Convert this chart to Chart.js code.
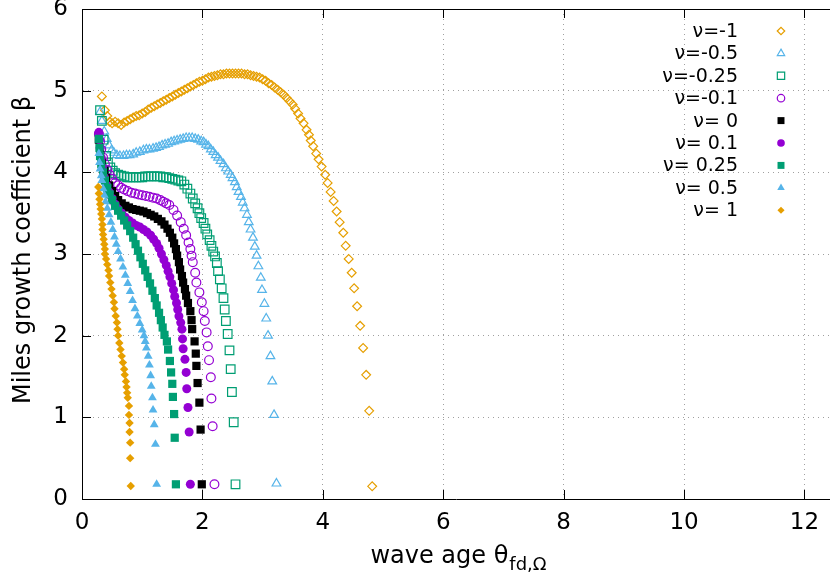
<!DOCTYPE html>
<html>
<head>
<meta charset="utf-8">
<script src="https://cdn.jsdelivr.net/npm/chart.js@4.4.0/dist/chart.umd.min.js"></script>
<style>
  html, body { margin: 0; padding: 0; background: #fff; overflow: hidden; }
</style>
</head>
<body>
<canvas id="chart" width="830" height="580"></canvas>
<script>
// axis ticks
const xTicks = [0, 2, 4, 6, 8, 10, 12];
const yTicks = [0, 1, 2, 3, 4, 5, 6];

const nuLabels = ['ν=-1', 'ν=-0.5', 'ν=-0.25', 'ν=-0.1', 'ν= 0', 'ν= 0.1', 'ν= 0.25', 'ν= 0.5', 'ν= 1'];

// [wave age, beta]
const nuM1 = [
  [0.33,4.93],[0.38,4.76],[0.42,4.69],[0.46,4.62],[0.50,4.60],[0.55,4.62],[0.60,4.60],[0.65,4.58],
  [0.70,4.61],[0.75,4.63],[0.80,4.65],[0.85,4.67],[0.90,4.69],[0.95,4.70],[1.00,4.72],[1.05,4.74],
  [1.10,4.77],[1.15,4.79],[1.20,4.81],[1.25,4.83],[1.30,4.85],[1.35,4.87],[1.40,4.89],[1.45,4.91],
  [1.50,4.93],[1.55,4.95],[1.60,4.97],[1.65,4.99],[1.70,5.01],[1.75,5.03],[1.80,5.05],[1.85,5.07],
  [1.90,5.09],[1.95,5.11],[2.00,5.12],[2.05,5.14],[2.10,5.16],[2.15,5.17],[2.20,5.18],[2.25,5.19],
  [2.30,5.20],[2.35,5.20],[2.40,5.21],[2.45,5.21],[2.50,5.21],[2.55,5.21],[2.60,5.21],[2.65,5.21],
  [2.70,5.20],[2.75,5.20],[2.80,5.19],[2.85,5.18],[2.90,5.17],[2.95,5.16],[3.00,5.14],[3.05,5.12],
  [3.10,5.09],[3.15,5.07],[3.20,5.04],[3.25,5.01],[3.30,4.98],[3.35,4.95],[3.40,4.91],[3.45,4.87],
  [3.50,4.83],[3.54,4.78],[3.59,4.72],[3.63,4.66],[3.68,4.60],[3.73,4.52],[3.77,4.46],[3.80,4.39],
  [3.84,4.32],[3.89,4.23],[3.93,4.16],[3.98,4.07],[4.04,3.97],[4.08,3.87],[4.13,3.76],[4.18,3.65],
  [4.23,3.52],[4.28,3.39],[4.34,3.26],[4.38,3.10],[4.43,2.94],[4.48,2.77],[4.52,2.58],[4.57,2.36],
  [4.62,2.12],[4.67,1.85],[4.72,1.52],[4.77,1.08],[4.82,0.155]
];
const nuM05 = [
  [0.30,4.74],[0.33,4.63],[0.37,4.50],[0.41,4.41],[0.45,4.33],[0.49,4.27],[0.53,4.24],[0.58,4.21],
  [0.63,4.20],[0.69,4.20],[0.74,4.21],[0.79,4.21],[0.85,4.22],[0.90,4.24],[0.96,4.25],[1.02,4.27],
  [1.07,4.28],[1.12,4.28],[1.18,4.29],[1.23,4.30],[1.28,4.31],[1.33,4.33],[1.38,4.34],[1.43,4.35],
  [1.48,4.37],[1.53,4.38],[1.58,4.39],[1.63,4.40],[1.68,4.41],[1.73,4.42],[1.78,4.42],[1.83,4.42],
  [1.88,4.41],[1.93,4.40],[1.98,4.38],[2.02,4.37],[2.06,4.34],[2.10,4.32],[2.14,4.28],[2.18,4.25],
  [2.22,4.21],[2.26,4.18],[2.30,4.14],[2.35,4.10],[2.39,4.05],[2.43,4.01],[2.47,3.97],[2.50,3.93],
  [2.54,3.88],[2.57,3.82],[2.60,3.76],[2.64,3.70],[2.67,3.63],[2.70,3.56],[2.74,3.48],[2.77,3.39],
  [2.80,3.30],[2.84,3.20],[2.87,3.09],[2.90,2.98],[2.93,2.85],[2.97,2.71],[2.99,2.56],[3.03,2.39],
  [3.06,2.21],[3.09,2.00],[3.13,1.75],[3.16,1.44],[3.19,1.03],[3.23,0.19]
];
const nuM025 = [
  [0.30,4.76],[0.33,4.63],[0.36,4.40],[0.40,4.20],[0.43,4.12],[0.47,4.06],[0.51,4.02],[0.55,3.99],
  [0.60,3.97],[0.65,3.96],[0.70,3.95],[0.75,3.94],[0.80,3.94],[0.85,3.94],[0.90,3.94],[0.95,3.94],
  [1.00,3.94],[1.05,3.95],[1.10,3.95],[1.15,3.95],[1.20,3.95],[1.25,3.95],[1.30,3.95],[1.35,3.94],
  [1.40,3.94],[1.45,3.93],[1.50,3.92],[1.55,3.91],[1.60,3.90],[1.65,3.89],[1.70,3.85],[1.75,3.80],
  [1.80,3.74],[1.84,3.68],[1.88,3.62],[1.92,3.56],[1.95,3.50],[1.98,3.44],[2.02,3.38],[2.05,3.31],
  [2.08,3.24],[2.12,3.17],[2.15,3.10],[2.18,3.03],[2.21,2.97],[2.24,2.89],[2.26,2.79],[2.29,2.69],
  [2.32,2.58],[2.35,2.46],[2.37,2.32],[2.39,2.18],[2.42,2.02],[2.45,1.82],[2.47,1.59],[2.49,1.31],
  [2.52,0.94],[2.55,0.18]
];
const nuM01 = [
  [0.28,4.47],[0.30,4.38],[0.32,4.28],[0.35,4.18],[0.38,4.10],[0.42,4.03],[0.46,3.97],[0.50,3.92],
  [0.55,3.87],[0.60,3.84],[0.65,3.81],[0.70,3.79],[0.76,3.77],[0.82,3.75],[0.88,3.74],[0.94,3.73],
  [1.00,3.72],[1.06,3.71],[1.12,3.70],[1.18,3.69],[1.24,3.68],[1.30,3.66],[1.35,3.64],[1.40,3.62],
  [1.45,3.60],[1.52,3.54],[1.58,3.47],[1.64,3.39],[1.69,3.31],[1.73,3.23],[1.77,3.14],[1.80,3.06],
  [1.82,2.98],[1.84,2.90],[1.88,2.77],[1.90,2.65],[1.95,2.53],[1.99,2.41],[2.02,2.30],[2.04,2.18],
  [2.07,2.04],[2.09,1.87],[2.11,1.70],[2.14,1.49],[2.15,1.23],[2.17,0.89],[2.20,0.18]
];
const nu0 = [
  [0.28,4.40],[0.30,4.25],[0.33,4.12],[0.37,4.02],[0.40,3.93],[0.45,3.84],[0.50,3.77],[0.55,3.71],
  [0.60,3.66],[0.66,3.62],[0.72,3.59],[0.78,3.57],[0.84,3.55],[0.90,3.54],[0.96,3.53],[1.02,3.52],
  [1.08,3.50],[1.14,3.48],[1.20,3.46],[1.26,3.43],[1.32,3.40],[1.37,3.36],[1.42,3.31],[1.46,3.26],
  [1.50,3.20],[1.53,3.13],[1.56,3.06],[1.58,2.98],[1.61,2.90],[1.63,2.81],[1.66,2.73],[1.68,2.65],
  [1.71,2.57],[1.73,2.49],[1.76,2.40],[1.80,2.30],[1.82,2.19],[1.83,2.08],[1.87,1.93],[1.89,1.78],
  [1.90,1.63],[1.92,1.42],[1.95,1.18],[1.97,0.85],[1.99,0.18]
];
const nu01 = [
  [0.28,4.49],[0.29,4.40],[0.30,4.30],[0.32,4.18],[0.34,4.06],[0.37,3.94],[0.41,3.84],[0.45,3.76],
  [0.50,3.68],[0.55,3.61],[0.60,3.55],[0.66,3.50],[0.72,3.45],[0.78,3.41],[0.84,3.38],[0.90,3.35],
  [0.96,3.33],[1.02,3.30],[1.08,3.27],[1.14,3.23],[1.19,3.18],[1.24,3.13],[1.28,3.07],[1.32,3.00],
  [1.36,2.93],[1.40,2.86],[1.43,2.79],[1.46,2.72],[1.49,2.64],[1.52,2.56],[1.54,2.48],[1.57,2.40],
  [1.59,2.32],[1.61,2.24],[1.64,2.16],[1.66,2.08],[1.67,1.96],[1.68,1.84],[1.71,1.71],[1.73,1.55],
  [1.74,1.35],[1.76,1.12],[1.78,0.82],[1.80,0.18]
];
const nu025 = [
  [0.28,4.41],[0.29,4.30],[0.30,4.20],[0.32,4.10],[0.35,4.00],[0.38,3.90],[0.42,3.81],[0.46,3.73],
  [0.50,3.66],[0.55,3.59],[0.60,3.53],[0.65,3.47],[0.70,3.41],[0.75,3.35],[0.80,3.28],[0.85,3.20],
  [0.89,3.12],[0.93,3.04],[0.97,2.96],[1.01,2.88],[1.05,2.80],[1.09,2.72],[1.13,2.64],[1.17,2.55],
  [1.21,2.46],[1.24,2.37],[1.28,2.28],[1.31,2.19],[1.34,2.10],[1.37,2.01],[1.41,1.93],[1.43,1.83],
  [1.46,1.69],[1.48,1.55],[1.50,1.41],[1.51,1.25],[1.53,1.04],[1.54,0.75],[1.56,0.18]
];
const nu05 = [
  [0.28,4.23],[0.29,4.12],[0.30,4.04],[0.32,3.96],[0.33,3.90],[0.35,3.80],[0.37,3.72],[0.39,3.64],
  [0.42,3.56],[0.45,3.48],[0.48,3.39],[0.51,3.30],[0.54,3.21],[0.57,3.12],[0.60,3.03],[0.64,2.94],
  [0.68,2.84],[0.72,2.74],[0.76,2.64],[0.80,2.54],[0.84,2.43],[0.88,2.33],[0.92,2.24],[0.96,2.15],
  [1.00,2.07],[1.03,2.00],[1.05,1.93],[1.07,1.85],[1.10,1.75],[1.12,1.64],[1.14,1.51],[1.15,1.38],
  [1.17,1.24],[1.18,1.09],[1.20,0.91],[1.22,0.67],[1.24,0.18]
];
const nu1 = [
  [0.27,3.82],[0.28,3.74],[0.29,3.67],[0.30,3.61],[0.31,3.55],[0.32,3.49],[0.33,3.43],[0.34,3.36],
  [0.34,3.30],[0.35,3.24],[0.36,3.18],[0.37,3.12],[0.38,3.06],[0.38,3.00],[0.40,2.94],[0.42,2.87],
  [0.44,2.80],[0.45,2.73],[0.47,2.65],[0.49,2.57],[0.51,2.49],[0.53,2.41],[0.54,2.33],[0.56,2.24],
  [0.58,2.16],[0.59,2.08],[0.60,2.00],[0.62,1.91],[0.64,1.83],[0.66,1.75],[0.68,1.67],[0.70,1.59],
  [0.71,1.52],[0.73,1.44],[0.74,1.37],[0.75,1.30],[0.76,1.24],[0.78,1.14],[0.78,1.03],[0.79,0.93],
  [0.79,0.82],[0.80,0.69],[0.80,0.50],[0.81,0.16]
];

const seriesData = [nuM1, nuM05, nuM025, nuM01, nu0, nu01, nu025, nu05, nu1];

const FONT = "'DejaVu Sans', 'Liberation Sans', sans-serif";
const NONE = 'rgba(0,0,0,0)';
const orange = '#e69f00', sky = '#56b4e9', green = '#009e73', purple = '#9400d3', black = '#000000';

// marker look per series (gnuplot point types)
const markers = [
  { color: orange, style: 'rectRot',  r: 4.4, open: true },
  { color: sky,    style: 'triangle', r: 5.0, open: true },
  { color: green,  style: 'rect',     r: 6.1, open: true },
  { color: purple, style: 'circle',   r: 4.4, open: true },
  { color: black,  style: 'rect',     r: 5.8, open: false },
  { color: purple, style: 'circle',   r: 4.5, open: false },
  { color: green,  style: 'rect',     r: 5.8, open: false },
  { color: sky,    style: 'triangle', r: 5.1, open: false },
  { color: orange, style: 'rectRot',  r: 4.2, open: false }
];

const datasets = seriesData.map((pts, i) => {
  const m = markers[i];
  return {
    label: nuLabels[i],
    data: pts.map(p => ({ x: p[0], y: p[1] })),
    showLine: false,
    order: seriesData.length - i, // later series on top, as gnuplot draws
    pointStyle: m.style,
    pointRadius: m.r,
    pointHoverRadius: m.r,
    borderColor: m.color,
    backgroundColor: m.open ? NONE : m.color,
    borderWidth: m.open ? 1.2 : 0
  };
});

const frame = {
  id: 'frame',
  afterDraw(chart) {
    const ctx = chart.ctx;
    const a = chart.chartArea;
    const xs = chart.scales.x, ys = chart.scales.y;
    const tl = 9;
    ctx.save();
    ctx.strokeStyle = '#000';
    ctx.lineWidth = 1;
    ctx.beginPath();
    const top = Math.round(a.top) + 0.5;
    ctx.moveTo(a.left, top);
    ctx.lineTo(a.right, top);
    xTicks.forEach(v => {
      if (v === 0) return;
      const px = Math.round(xs.getPixelForValue(v)) + 0.5;
      ctx.moveTo(px, a.bottom);
      ctx.lineTo(px, a.bottom - tl);
      ctx.moveTo(px, a.top);
      ctx.lineTo(px, a.top + tl);
    });
    yTicks.forEach(v => {
      if (v === 0 || v === 6) return;
      const py = Math.round(ys.getPixelForValue(v)) + 0.5;
      ctx.moveTo(a.left, py);
      ctx.lineTo(a.left + tl, py);
    });
    ctx.stroke();

    // axis titles
    ctx.fillStyle = '#000';
    ctx.font = '24px ' + FONT;
    ctx.textBaseline = 'middle';
    ctx.textAlign = 'center';
    ctx.save();
    ctx.translate(24, 250);
    ctx.rotate(-Math.PI / 2);
    ctx.fillText('Miles growth coefficient β', 0, 0);
    ctx.restore();

    const mainT = 'wave age θ', subT = 'fd,Ω';
    ctx.textBaseline = 'alphabetic';
    ctx.textAlign = 'left';
    ctx.font = '24px ' + FONT;
    const w1 = ctx.measureText(mainT).width;
    ctx.font = '18px ' + FONT;
    const w2 = ctx.measureText(subT).width;
    const x0 = 458 - (w1 + w2) / 2;
    ctx.font = '24px ' + FONT;
    ctx.fillText(mainT, x0, 563);
    ctx.font = '18px ' + FONT;
    ctx.fillText(subT, x0 + w1 + 1, 570);

    // key
    ctx.font = '19px ' + FONT;
    ctx.textAlign = 'right';
    ctx.textBaseline = 'middle';
    chart.data.datasets.forEach((ds, i) => {
      const y = 31 + i * 22.4;
      ctx.fillStyle = '#000';
      ctx.fillText(ds.label, 738, y + 1);
      ctx.fillStyle = ds.backgroundColor;
      ctx.strokeStyle = ds.borderColor;
      ctx.lineWidth = ds.borderWidth;
      Chart.helpers.drawPoint(ctx, {
        pointStyle: ds.pointStyle, radius: ds.pointRadius * 0.85, rotation: 0, borderWidth: ds.borderWidth
      }, 781, y);
    });
    ctx.restore();
  }
};

new Chart(document.getElementById('chart'), {
  type: 'scatter',
  data: { datasets },
  options: {
    responsive: false,
    animation: false,
    events: [],
    layout: { autoPadding: false, padding: { top: 9, left: 0, right: 0, bottom: 0 } },
    plugins: { legend: { display: false }, tooltip: { enabled: false } },
    scales: {
      x: {
        type: 'linear',
        min: 0,
        max: 12.425,
        afterBuildTicks: s => { s.ticks = xTicks.map(v => ({ value: v })); },
        afterFit: s => { s.height = 81; s.paddingLeft = 0; s.paddingRight = 0; },
        ticks: { color: '#000', font: { family: FONT, size: 23 }, padding: 10, maxRotation: 0, autoSkip: false },
        grid: { color: c => (c.tick && c.tick.value === 0 ? NONE : '#a0a0a0'), lineWidth: 1, drawTicks: false },
        border: { display: true, color: '#000', width: 1, dash: [1, 4] }
      },
      y: {
        min: 0,
        max: 6,
        afterBuildTicks: s => { s.ticks = yTicks.map(v => ({ value: v })); },
        afterFit: s => { s.width = 82; s.paddingTop = 0; s.paddingBottom = 0; },
        ticks: { color: '#000', font: { family: FONT, size: 23, lineHeight: 0.8 }, padding: 14 },
        grid: { color: c => (c.tick && (c.tick.value === 0 || c.tick.value === 6) ? NONE : '#a0a0a0'), lineWidth: 1, drawTicks: false },
        border: { display: true, color: '#000', width: 1, dash: [1, 4] }
      }
    }
  },
  plugins: [frame]
});
</script>
</body>
</html>
